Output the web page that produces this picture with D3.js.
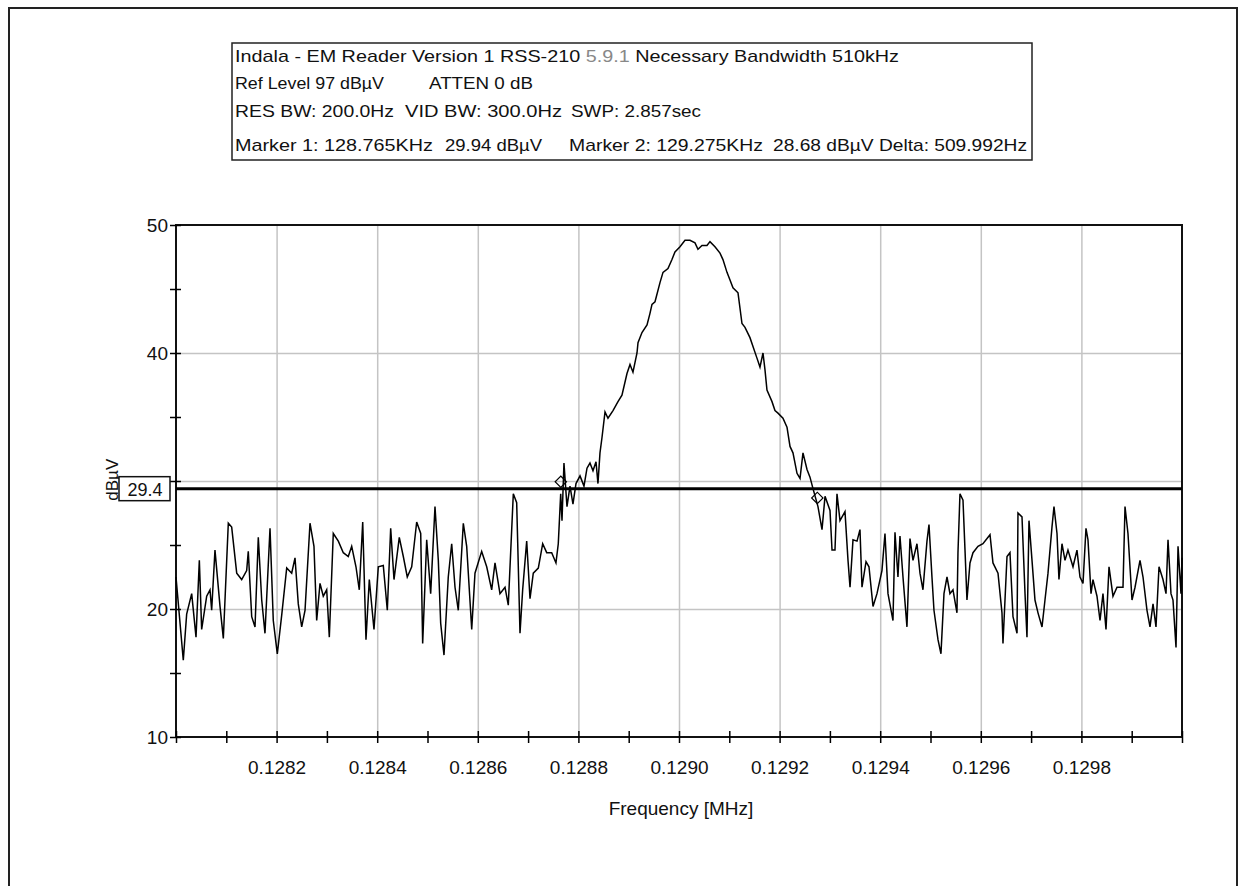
<!DOCTYPE html>
<html>
<meta charset="utf-8">
<head>
<title>Indala - EM Reader RSS-210 5.9.1 Necessary Bandwidth</title>
<style>
body { margin: 0; background: #fff; }
svg { display: block; }
.axis text { font-family: "Liberation Sans", Arial, sans-serif; font-size: 19px; fill: #111; }
.axis path { display: none; }
.axis line { stroke: #000; stroke-width: 1.5px; }
.grid line { stroke: #c4c4c4; stroke-width: 1.5px; }
.grid path { display: none; }
.hdr { font-family: "Liberation Sans", Arial, sans-serif; font-size: 17px; fill: #111; }
</style>
</head>
<body>
<script src="https://d3js.org/d3.v7.min.js"></script>
<script>

// sweep readings (kHz, dBuV)
var freqKHz = [
  128.0000, 128.0145, 128.0212, 128.0312, 128.0398, 128.0464, 128.0510, 128.0610, 128.0676, 128.0709,
  128.0775, 128.0875, 128.0941, 128.1040, 128.1107, 128.1207, 128.1306, 128.1405, 128.1437, 128.1505,
  128.1571, 128.1636, 128.1704, 128.1769, 128.1869, 128.1934, 128.2014, 128.2101, 128.2201, 128.2300,
  128.2366, 128.2431, 128.2499, 128.2565, 128.2664, 128.2743, 128.2797, 128.2863, 128.2928, 128.2996,
  128.3048, 128.3127, 128.3227, 128.3326, 128.3425, 128.3493, 128.3578, 128.3644, 128.3712, 128.3777,
  128.3843, 128.3936, 128.4022, 128.4121, 128.4201, 128.4268, 128.4334, 128.4439, 128.4519, 128.4598,
  128.4686, 128.4785, 128.4865, 128.4904, 128.4984, 128.5063, 128.5149, 128.5215, 128.5262, 128.5328,
  128.5413, 128.5481, 128.5547, 128.5612, 128.5712, 128.5779, 128.5879, 128.5944, 128.6077, 128.6177,
  128.6276, 128.6342, 128.6441, 128.6541, 128.6606, 128.6706, 128.6773, 128.6839, 128.6892, 128.6972,
  128.7038, 128.7103, 128.7203, 128.7290, 128.7370, 128.7469, 128.7554, 128.7600, 128.7648, 128.7674,
  128.7713, 128.7773, 128.7833, 128.7892, 128.7952, 128.8032, 128.8111, 128.8171, 128.8230, 128.8290,
  128.8350, 128.8389, 128.8429, 128.8469, 128.8529, 128.8588, 128.8688, 128.8787, 128.8866, 128.8966,
  128.9026, 128.9085, 128.9165, 128.9185, 128.9264, 128.9364, 128.9423, 128.9463, 128.9523, 128.9622,
  128.9682, 128.9781, 128.9860, 128.9920, 129.0020, 129.0119, 129.0218, 129.0318, 129.0377, 129.0457,
  129.0556, 129.0616, 129.0715, 129.0815, 129.0874, 129.0954, 129.1014, 129.1073, 129.1173, 129.1252,
  129.1312, 129.1411, 129.1471, 129.1550, 129.1610, 129.1670, 129.1709, 129.1749, 129.1849, 129.1908,
  129.1968, 129.2067, 129.2147, 129.2207, 129.2266, 129.2346, 129.2406, 129.2465, 129.2545, 129.2604,
  129.2664, 129.2763, 129.2843, 129.2903, 129.3002, 129.3042, 129.3101, 129.3141, 129.3201, 129.3300,
  129.3360, 129.3400, 129.3459, 129.3539, 129.3598, 129.3638, 129.3718, 129.3777, 129.3857, 129.3936,
  129.4035, 129.4095, 129.4155, 129.4254, 129.4294, 129.4353, 129.4393, 129.4453, 129.4532, 129.4592,
  129.4652, 129.4731, 129.4791, 129.4850, 129.4930, 129.4970, 129.5029, 129.5069, 129.5149, 129.5208,
  129.5268, 129.5328, 129.5387, 129.5447, 129.5526, 129.5546, 129.5586, 129.5646, 129.5686, 129.5725,
  129.5785, 129.5845, 129.5944, 129.6043, 129.6183, 129.6242, 129.6342, 129.6421, 129.6441, 129.6521,
  129.6580, 129.6640, 129.6720, 129.6739, 129.6819, 129.6879, 129.6918, 129.6958, 129.7018, 129.7077,
  129.7137, 129.7217, 129.7276, 129.7336, 129.7415, 129.7455, 129.7515, 129.7554, 129.7614, 129.7674,
  129.7733, 129.7833, 129.7912, 129.7972, 129.8032, 129.8091, 129.8131, 129.8191, 129.8230, 129.8310,
  129.8370, 129.8429, 129.8489, 129.8549, 129.8628, 129.8708, 129.8767, 129.8827, 129.8867, 129.8926,
  129.9006, 129.9066, 129.9165, 129.9225, 129.9304, 129.9364, 129.9424, 129.9483, 129.9543, 129.9622,
  129.9682, 129.9722, 129.9781, 129.9821, 129.9881, 129.9921, 129.9980, 130.0000
];
var levelDb = [
  22.5, 16.0, 19.6, 21.2, 17.8, 23.8, 18.4, 21.0, 21.5, 19.9,
  24.6, 20.2, 17.7, 26.7, 26.4, 22.8, 22.3, 23.0, 24.5, 19.4,
  18.6, 25.6, 20.7, 18.1, 26.3, 19.1, 16.5, 19.5, 23.2, 22.8,
  24.0, 20.4, 18.6, 19.9, 26.7, 24.9, 19.1, 22.0, 21.0, 21.5,
  17.8, 25.9, 25.3, 24.4, 24.1, 24.9, 23.3, 21.5, 26.8, 17.6,
  22.3, 18.4, 23.3, 23.4, 19.9, 26.3, 22.3, 25.6, 24.1, 22.5,
  23.3, 26.8, 25.9, 17.3, 25.4, 21.2, 28.0, 23.8, 18.9, 16.4,
  22.5, 25.1, 21.7, 19.9, 26.7, 24.9, 18.4, 22.8, 24.5, 23.3,
  21.5, 23.6, 21.2, 21.7, 20.3, 29.0, 28.3, 18.1, 21.5, 25.3,
  20.8, 22.8, 23.2, 25.1, 24.4, 24.4, 23.6, 25.1, 29.0, 26.9,
  31.4, 28.0, 29.6, 28.2, 29.8, 30.4, 29.6, 31.0, 31.4, 30.8,
  31.5, 29.8, 32.2, 33.4, 35.4, 34.9, 35.5, 36.2, 36.7, 38.4,
  39.1, 38.5, 40.0, 40.8, 41.6, 42.2, 43.1, 43.8, 44.0, 45.5,
  46.3, 46.6, 47.3, 47.9, 48.3, 48.8, 48.8, 48.6, 48.1, 48.4,
  48.4, 48.7, 48.3, 47.8, 47.3, 46.3, 45.7, 45.1, 44.7, 42.3,
  42.0, 41.2, 40.5, 39.6, 38.9, 40.0, 38.7, 37.1, 36.2, 35.5,
  35.3, 34.9, 34.2, 32.7, 32.2, 30.6, 30.2, 32.2, 30.9, 30.3,
  29.4, 28.0, 26.2, 28.8, 27.7, 24.6, 24.6, 29.0, 26.9, 27.6,
  23.8, 21.7, 25.4, 25.3, 26.2, 21.7, 23.7, 23.3, 20.2, 21.2,
  23.0, 25.9, 21.2, 19.1, 26.0, 22.5, 25.7, 22.5, 18.6, 25.5,
  23.8, 25.1, 22.8, 21.5, 25.3, 26.6, 22.5, 19.9, 17.6, 16.5,
  21.2, 22.5, 21.2, 21.5, 19.7, 24.4, 29.0, 28.5, 24.6, 20.7,
  23.6, 24.4, 24.9, 25.1, 25.8, 23.6, 22.8, 19.7, 17.3, 24.1,
  24.4, 19.4, 18.1, 27.5, 27.2, 21.2, 17.8, 26.9, 23.8, 20.7,
  19.7, 18.6, 20.7, 22.8, 26.4, 28.0, 25.9, 22.3, 25.1, 23.8,
  24.6, 23.3, 24.6, 22.5, 22.0, 26.3, 25.4, 21.2, 22.3, 21.0,
  19.1, 21.2, 18.4, 23.3, 21.0, 21.7, 21.7, 21.7, 28.0, 25.9,
  20.7, 21.7, 23.8, 22.5, 19.9, 18.6, 20.4, 18.6, 23.3, 22.3,
  21.2, 25.4, 21.2, 20.7, 17.0, 24.9, 21.2, 24.0
];

var markerKHz = [128.765, 129.275];
var markerDb = [29.94, 28.68];
var refLineDb = 29.4;

var xTickValues = [0.1280, 0.1281, 0.1282, 0.1283, 0.1284, 0.1285, 0.1286, 0.1287, 0.1288, 0.1289, 0.1290,
                   0.1291, 0.1292, 0.1293, 0.1294, 0.1295, 0.1296, 0.1297, 0.1298, 0.1299, 0.1300];
var xLabelValues = [0.1282, 0.1284, 0.1286, 0.1288, 0.1290, 0.1292, 0.1294, 0.1296, 0.1298];
var yTickValues = [10, 15, 20, 25, 30, 35, 40, 45, 50];
var yLabelValues = [10, 20, 40, 50];

var headerLines = [
  [{t: "Indala - EM Reader Version 1 RSS-210 ", gray: false}, {t: "5.9.1", gray: true}, {t: " Necessary Bandwidth 510kHz", gray: false}],
  ["Ref Level 97 dB\u00b5V", "ATTEN 0 dB"],
  ["RES BW: 200.0Hz", "VID BW: 300.0Hz", "SWP: 2.857sec"],
  ["Marker 1: 128.765KHz", "29.94 dB\u00b5V", "Marker 2: 129.275KHz", "28.68 dB\u00b5V Delta: 509.992Hz"]
];

var margin = {top: 225, right: 64, bottom: 149, left: 176},
    width = 1246 - margin.left - margin.right,
    height = 886 - margin.top - margin.bottom;

var svg = d3.select("body").append("svg")
    .attr("width", 1246)
    .attr("height", 886);

// outer frame (bottom edge is cut off in the picture)
svg.append("path")
    .attr("d", "M9,886 V8 H1237 V886")
    .attr("fill", "none")
    .attr("stroke", "#222")
    .attr("stroke-width", 2);

// header box
var hdr = svg.append("g");
hdr.append("rect")
    .attr("x", 232).attr("y", 43)
    .attr("width", 800).attr("height", 117)
    .attr("fill", "#fff")
    .attr("stroke", "#222")
    .attr("stroke-width", 1.5);

var l1 = hdr.append("text").attr("class", "hdr")
    .attr("x", 235).attr("y", 62)
    .attr("textLength", 664).attr("lengthAdjust", "spacingAndGlyphs");
headerLines[0].forEach(function(s) {
  l1.append("tspan").text(s.t).style("fill", s.gray ? "#888" : "#111");
});

// segment positions of the lines 2..4 : [x, width]
var segs = [
  [[235, 149], [429, 104]],
  [[235, 159], [405, 157], [571, 130]],
  [[235, 198], [445, 97], [569, 194], [773, 254]]
];
var baseY = [89, 117, 151];
segs.forEach(function(row, r) {
  row.forEach(function(s, k) {
    hdr.append("text").attr("class", "hdr")
        .attr("x", s[0]).attr("y", baseY[r])
        .attr("textLength", s[1]).attr("lengthAdjust", "spacingAndGlyphs")
        .text(headerLines[r + 1][k]);
  });
});

var g = svg.append("g")
    .attr("transform", "translate(" + margin.left + "," + margin.top + ")");

var x = d3.scaleLinear().domain([0.128, 0.130]).range([0, width]);
var y = d3.scaleLinear().domain([10, 50]).range([height, 0]);

// grid
g.append("g").attr("class", "grid")
    .attr("transform", "translate(0," + height + ")")
    .call(d3.axisBottom(x).tickValues(xLabelValues).tickSize(-height).tickFormat(""));
g.append("g").attr("class", "grid")
    .call(d3.axisLeft(y).tickValues([20, 30, 40]).tickSize(-width).tickFormat(""));

// plot frame
g.append("rect")
    .attr("width", width).attr("height", height)
    .attr("fill", "none")
    .attr("stroke", "#111")
    .attr("stroke-width", 2);

// x axis: ticks crossing the line, labels every other tick
var xa = g.append("g").attr("class", "axis")
    .attr("transform", "translate(0," + height + ")")
    .call(d3.axisBottom(x).tickValues(xTickValues).tickSize(6).tickFormat(""));
xa.selectAll(".tick line").attr("y1", -6).attr("y2", 6);

g.append("g").attr("class", "axis")
    .attr("transform", "translate(0," + height + ")")
    .call(d3.axisBottom(x).tickValues(xLabelValues).tickSize(0).tickPadding(24)
      .tickFormat(d3.format(".4f")));

var ya = g.append("g").attr("class", "axis")
    .call(d3.axisLeft(y).tickValues(yTickValues).tickSize(6).tickFormat(""));
ya.selectAll(".tick line").attr("x1", -6).attr("x2", 5);

g.append("g").attr("class", "axis")
    .call(d3.axisLeft(y).tickValues(yLabelValues).tickSize(0).tickPadding(8)
      .tickFormat(d3.format("d")));

g.append("text")
    .attr("x", width / 2 + 2)
    .attr("y", height + 78)
    .attr("text-anchor", "middle")
    .style("font-family", "Liberation Sans, Arial, sans-serif")
    .style("font-size", "19px")
    .style("fill", "#111")
    .text("Frequency [MHz]");

g.append("text")
    .attr("transform", "translate(" + (-58) + "," + y(30.1) + ") rotate(-90)")
    .attr("text-anchor", "middle")
    .style("font-family", "Liberation Sans, Arial, sans-serif")
    .style("font-size", "17px")
    .style("fill", "#111")
    .text("dB\u00b5V");

// trace
var pts = freqKHz.map(function(f, i) { return [f / 1000, levelDb[i]]; });

g.append("path")
    .datum(pts)
    .attr("fill", "none")
    .attr("stroke", "#000")
    .attr("stroke-width", 1.5)
    .attr("d", d3.line()
      .x(function(d) { return x(d[0]); })
      .y(function(d) { return y(d[1]); }));

// reference level line
g.append("line")
    .attr("x1", 0).attr("x2", width)
    .attr("y1", y(refLineDb)).attr("y2", y(refLineDb))
    .attr("stroke", "#000")
    .attr("stroke-width", 3);

// markers
g.selectAll(".marker")
    .data(markerKHz)
    .enter().append("path")
    .attr("class", "marker")
    .attr("transform", function(d, i) {
      return "translate(" + x(d / 1000) + "," + y(markerDb[i]) + ") rotate(45)";
    })
    .attr("d", d3.symbol().type(d3.symbolSquare).size(64))
    .attr("fill", "none")
    .attr("stroke", "#000")
    .attr("stroke-width", 1.2);

// ref level value box
var rb = g.append("g")
    .attr("transform", "translate(0," + y(refLineDb) + ")");
rb.append("rect")
    .attr("x", -57).attr("y", -12)
    .attr("width", 51).attr("height", 24)
    .attr("fill", "#fff")
    .attr("stroke", "#111")
    .attr("stroke-width", 1.5);
rb.append("text")
    .attr("x", -31).attr("y", 7)
    .attr("text-anchor", "middle")
    .style("font-family", "Liberation Sans, Arial, sans-serif")
    .style("font-size", "18px")
    .style("fill", "#111")
    .text(refLineDb.toFixed(1));

</script>
</body>
</html>
